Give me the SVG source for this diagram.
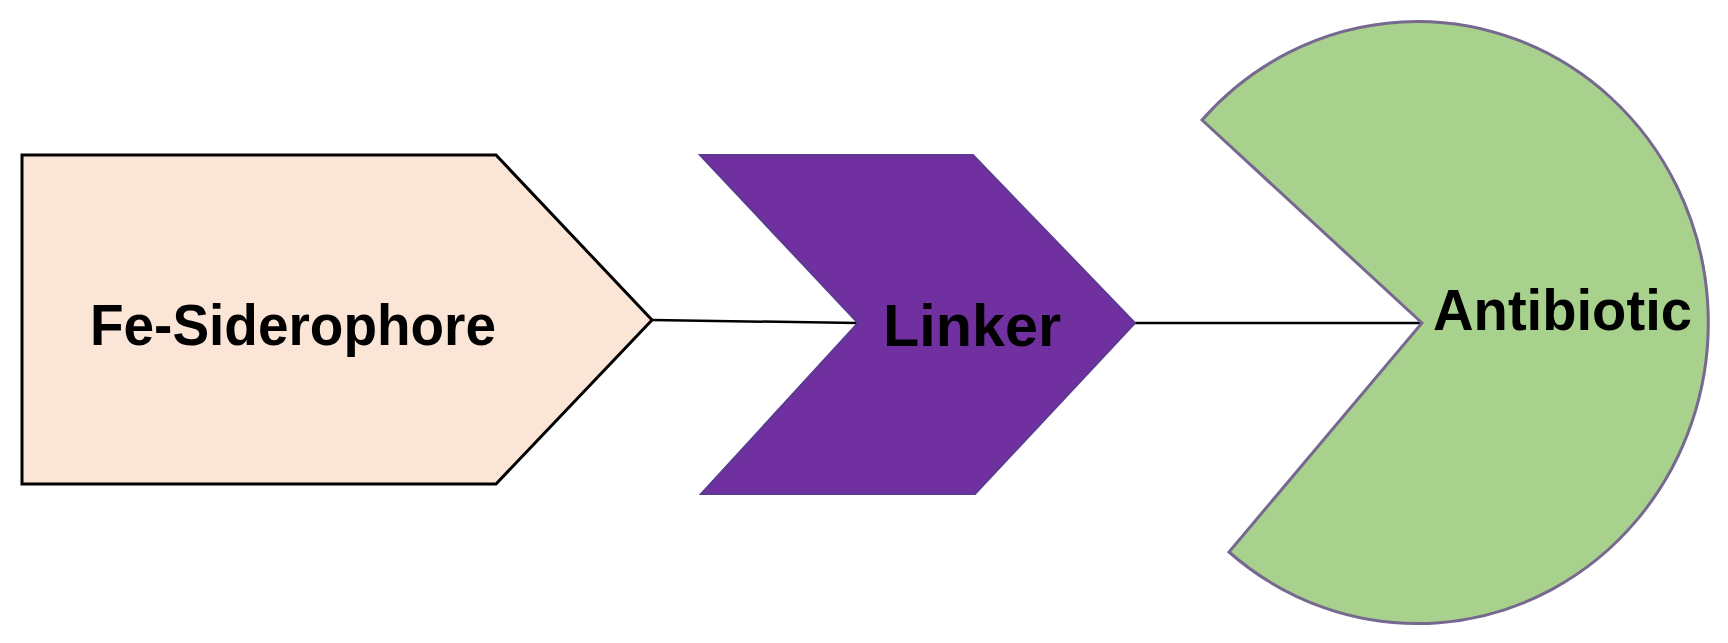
<svg xmlns="http://www.w3.org/2000/svg" width="1728" height="643" viewBox="0 0 1728 643">
<style>
.lbl{font-family:"Liberation Sans",Arial,sans-serif;font-weight:bold;fill:#000}
.conn{stroke:#000;stroke-width:2.5;fill:none}
</style>
<rect width="1728" height="643" fill="#fff"/>
<g id="connectors">
<line class="conn" x1="652" y1="320" x2="858" y2="323"/>
<line class="conn" x1="1135" y1="323" x2="1422" y2="323"/>
</g>
<g id="fe-siderophore">
<polygon points="22,155 496,155 652,320 496,484 22,484" fill="#FBE5D6" stroke="#000" stroke-width="3"/>
<text class="lbl" x="90" y="345" font-size="58" textLength="406" lengthAdjust="spacingAndGlyphs">Fe-Siderophore</text>
</g>
<g id="linker">
<polygon points="700,155 973,155 1135,323 975,494 701,494 858,323" fill="#7030A0" stroke="#5a3a92" stroke-width="2"/>
<text class="lbl" x="883" y="346" font-size="60" fill="#12041e" textLength="178" lengthAdjust="spacingAndGlyphs">Linker</text>
</g>
<g id="antibiotic">
<path d="M1422,323 L1202,120 A291,301 0 1 1 1229,552 Z" fill="#A9D18E" stroke="#76688f" stroke-width="3"/>
<text class="lbl" x="1433" y="330" font-size="58" fill="#061006" textLength="259" lengthAdjust="spacingAndGlyphs">Antibiotic</text>
</g>
</svg>
